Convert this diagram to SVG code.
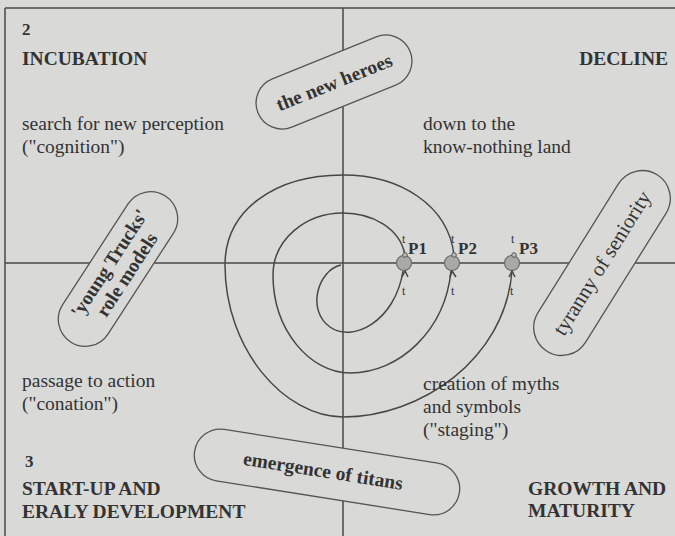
<svg xmlns="http://www.w3.org/2000/svg" width="675" height="536" viewBox="0 0 675 536">
<style>
  text { font-family: "Liberation Serif", "Times New Roman", serif; fill: #333333; }
  .t { font-size: 19.5px; }
  .b { font-size: 19.5px; font-weight: bold; }
  .pl { font-size: 17px; font-weight: bold; }
  .s { font-size: 12px; }
  .ln { fill: none; stroke: #474747; stroke-width: 1.5; }
  .pill { fill: #d9d9d7; stroke: #555; stroke-width: 1.3; }
  .pt { fill: #a9a9a7; stroke: #6a6a6a; stroke-width: 1.2; }
  .dot { fill: #bdbdbb; stroke: #555; stroke-width: 1; }
</style>
<rect x="0" y="0" width="675" height="536" fill="#d9d9d7"/>

<g id="connectors">
  <line class="ln" x1="5" y1="8" x2="675" y2="8"/>
  <line class="ln" x1="5" y1="8" x2="5" y2="536"/>
  <line class="ln" x1="343" y1="8" x2="343" y2="536"/>
  <line class="ln" x1="5" y1="263" x2="675" y2="263"/>
  <path class="ln" d="M 341 265 C 318 270, 306 310, 330 327 C 352 343, 395 322, 403 271"/>
  <path class="ln" d="M 405 255 C 400 228, 372 213, 343 213 C 305 213, 273 240, 273 275 C 273 330, 310 373, 350 373 C 400 373, 445 330, 451 271"/>
  <path class="ln" d="M 454 255 C 448 205, 400 175, 343 175 C 275 175, 225 210, 225 265 C 225 350, 285 417, 343 417 C 420 417, 505 360, 512 271"/>
</g>

<g id="p1">
  <circle class="pt" cx="404" cy="263" r="7.5"/>
  <circle class="dot" cx="405" cy="255" r="2.3"/>
  <path class="ln" d="M 402 277 L 405 271 L 408 277" stroke-width="1"/>
  <text class="s" x="402" y="243">t</text>
  <text class="s" x="402" y="295">t</text>
  <text class="pl" x="408" y="254">P1</text>
</g>
<g id="p2">
  <circle class="pt" cx="452" cy="263" r="7.5"/>
  <circle class="dot" cx="454" cy="255" r="2.3"/>
  <path class="ln" d="M 450 277 L 452 271 L 456 277" stroke-width="1"/>
  <text class="s" x="451" y="243">t</text>
  <text class="s" x="451" y="295">t</text>
  <text class="pl" x="458" y="254">P2</text>
</g>
<g id="p3">
  <circle class="pt" cx="512" cy="263" r="7.5"/>
  <circle class="dot" cx="514" cy="255" r="2.3"/>
  <path class="ln" d="M 509 277 L 512 271 L 515 277" stroke-width="1"/>
  <text class="s" x="511" y="243">t</text>
  <text class="s" x="510" y="295">t</text>
  <text class="pl" x="519" y="254">P3</text>
</g>

<g id="pill-heroes" transform="translate(334 82) rotate(-22)">
  <rect class="pill" x="-82" y="-26" width="164" height="52" rx="26"/>
  <text class="b" x="0" y="7" text-anchor="middle">the new heroes</text>
</g>
<g id="pill-young" transform="translate(118 269) rotate(-57)">
  <rect class="pill" x="-87" y="-27" width="174" height="54" rx="27"/>
  <text class="b" x="0" y="-4" text-anchor="middle">'young Trucks'</text>
  <text class="b" x="0" y="17" text-anchor="middle">role models</text>
</g>
<g id="pill-tyranny" transform="translate(602 263) rotate(-58)">
  <rect class="pill" x="-104" y="-28" width="208" height="56" rx="28"/>
  <text class="t" x="0" y="7" text-anchor="middle" style="font-size:21px">tyranny of seniority</text>
</g>
<g id="pill-titans" transform="translate(327 472) rotate(9)">
  <rect class="pill" x="-134" y="-26" width="268" height="52" rx="26"/>
  <text class="b" x="-4" y="6" text-anchor="middle">emergence of titans</text>
</g>

<g id="q2">
  <text class="b" x="22" y="35" style="font-size:17px">2</text>
  <text class="b" x="22" y="65">INCUBATION</text>
  <text class="t" x="22" y="130">search for new perception</text>
  <text class="t" x="22" y="153">("cognition")</text>
</g>
<g id="q1">
  <text class="b" x="668" y="65" text-anchor="end">DECLINE</text>
  <text class="t" x="423" y="130">down to the</text>
  <text class="t" x="423" y="153">know-nothing land</text>
</g>
<g id="q3">
  <text class="t" x="22" y="387">passage to action</text>
  <text class="t" x="22" y="410">("conation")</text>
  <text class="b" x="25" y="467" style="font-size:17px">3</text>
  <text class="b" x="22" y="495">START-UP AND</text>
  <text class="b" x="22" y="518">ERALY DEVELOPMENT</text>
</g>
<g id="q4">
  <text class="t" x="423" y="390">creation of myths</text>
  <text class="t" x="423" y="413">and symbols</text>
  <text class="t" x="423" y="436">("staging")</text>
  <text class="b" x="528" y="495">GROWTH AND</text>
  <text class="b" x="528" y="517">MATURITY</text>
</g>
</svg>
